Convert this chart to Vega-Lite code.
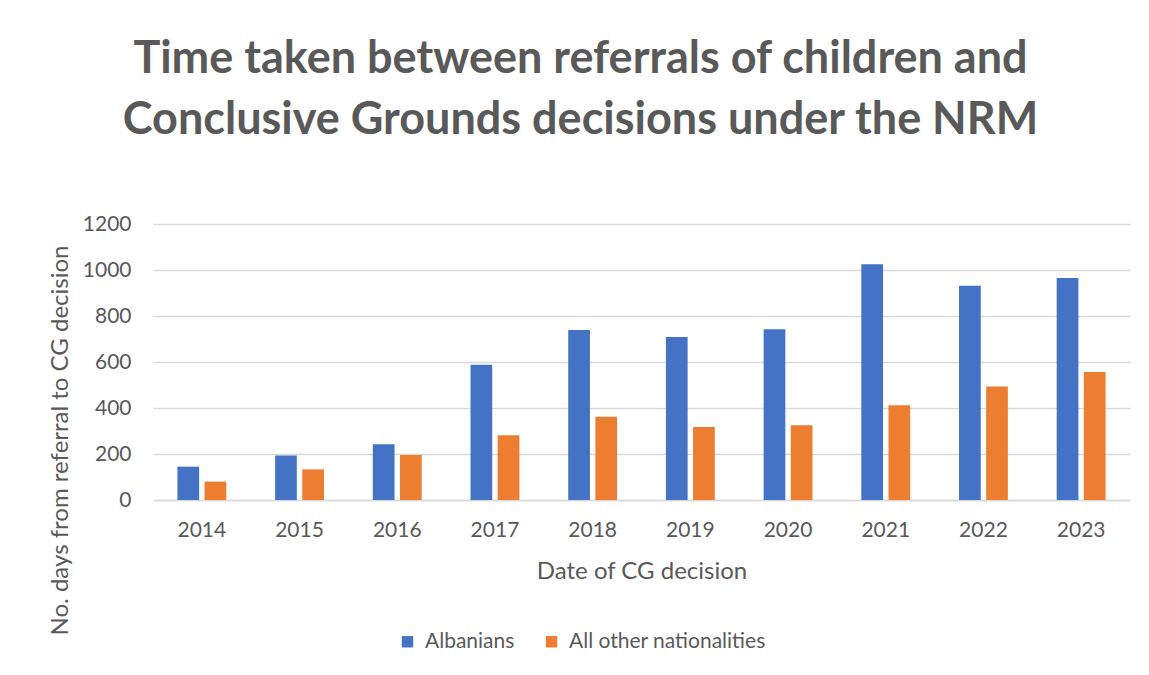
{
  "$schema": "https://vega.github.io/schema/vega-lite/v6.json",
  "width": 977,
  "height": 276,
  "autosize": {"type": "none"},
  "padding": {"left": 153, "top": 224, "right": 19, "bottom": 175},
  "background": "white",
  "title": {
    "text": ["Time taken between referrals of children and", "Conclusive Grounds decisions under the NRM"],
    "font": "Lato",
    "fontSize": 45,
    "fontWeight": "bold",
    "color": "#595959",
    "anchor": "middle",
    "dx": -61,
    "offset": 70,
    "lineHeight": 61
  },
  "config": {
    "view": {"stroke": null},
    "font": "Lato"
  },
  "data": {
    "values": [
      {"year": "2014", "group": "Albanians", "days": 145},
      {"year": "2014", "group": "All other nationalities", "days": 80},
      {"year": "2015", "group": "Albanians", "days": 193},
      {"year": "2015", "group": "All other nationalities", "days": 133},
      {"year": "2016", "group": "Albanians", "days": 242},
      {"year": "2016", "group": "All other nationalities", "days": 196},
      {"year": "2017", "group": "Albanians", "days": 588},
      {"year": "2017", "group": "All other nationalities", "days": 281},
      {"year": "2018", "group": "Albanians", "days": 739},
      {"year": "2018", "group": "All other nationalities", "days": 362},
      {"year": "2019", "group": "Albanians", "days": 709},
      {"year": "2019", "group": "All other nationalities", "days": 317},
      {"year": "2020", "group": "Albanians", "days": 742},
      {"year": "2020", "group": "All other nationalities", "days": 325},
      {"year": "2021", "group": "Albanians", "days": 1025},
      {"year": "2021", "group": "All other nationalities", "days": 412},
      {"year": "2022", "group": "Albanians", "days": 932},
      {"year": "2022", "group": "All other nationalities", "days": 493},
      {"year": "2023", "group": "Albanians", "days": 965},
      {"year": "2023", "group": "All other nationalities", "days": 557}
    ]
  },
  "mark": {"type": "bar"},
  "encoding": {
    "x": {
      "field": "year",
      "type": "nominal",
      "scale": {"paddingInner": 0.5, "paddingOuter": 0.25},
      "axis": {
        "title": "Date of CG decision",
        "titleFontSize": 24,
        "titleFontWeight": "normal",
        "titleColor": "#595959",
        "titleY": 71,
        "titleBaseline": "middle",
        "labelAngle": 0,
        "labelFontSize": 21,
        "labelColor": "#595959",
        "labelPadding": 19,
        "ticks": false,
        "domainColor": "#d9d9d9",
        "domainWidth": 1.5
      }
    },
    "xOffset": {
      "field": "group",
      "type": "nominal",
      "scale": {"paddingInner": 0.2, "paddingOuter": 0}
    },
    "y": {
      "field": "days",
      "type": "quantitative",
      "scale": {"domain": [0, 1200], "nice": false},
      "axis": {
        "title": "No. days from referral to CG decision",
        "titleFontSize": 24,
        "titleFontWeight": "normal",
        "titleColor": "#595959",
        "titleX": -93,
        "titleY": 216,
        "titleAlign": "center",
        "titleBaseline": "middle",
        "values": [0, 200, 400, 600, 800, 1000, 1200],
        "format": "d",
        "labelFontSize": 21,
        "labelColor": "#595959",
        "labelPadding": 22,
        "ticks": false,
        "domain": false,
        "gridColor": "#d9d9d9",
        "gridWidth": 1.5
      }
    },
    "color": {
      "field": "group",
      "type": "nominal",
      "scale": {
        "domain": ["Albanians", "All other nationalities"],
        "range": ["#4472c4", "#ed7d31"]
      },
      "legend": {
        "title": null,
        "orient": "none",
        "direction": "horizontal",
        "legendX": 244,
        "legendY": 407,
        "symbolType": "square",
        "symbolSize": 130,
        "symbolStrokeWidth": 0,
        "labelFontSize": 21,
        "labelLimit": 400,
        "labelColor": "#595959",
        "columnPadding": 26,
        "labelOffset": 7
      }
    }
  }
}
